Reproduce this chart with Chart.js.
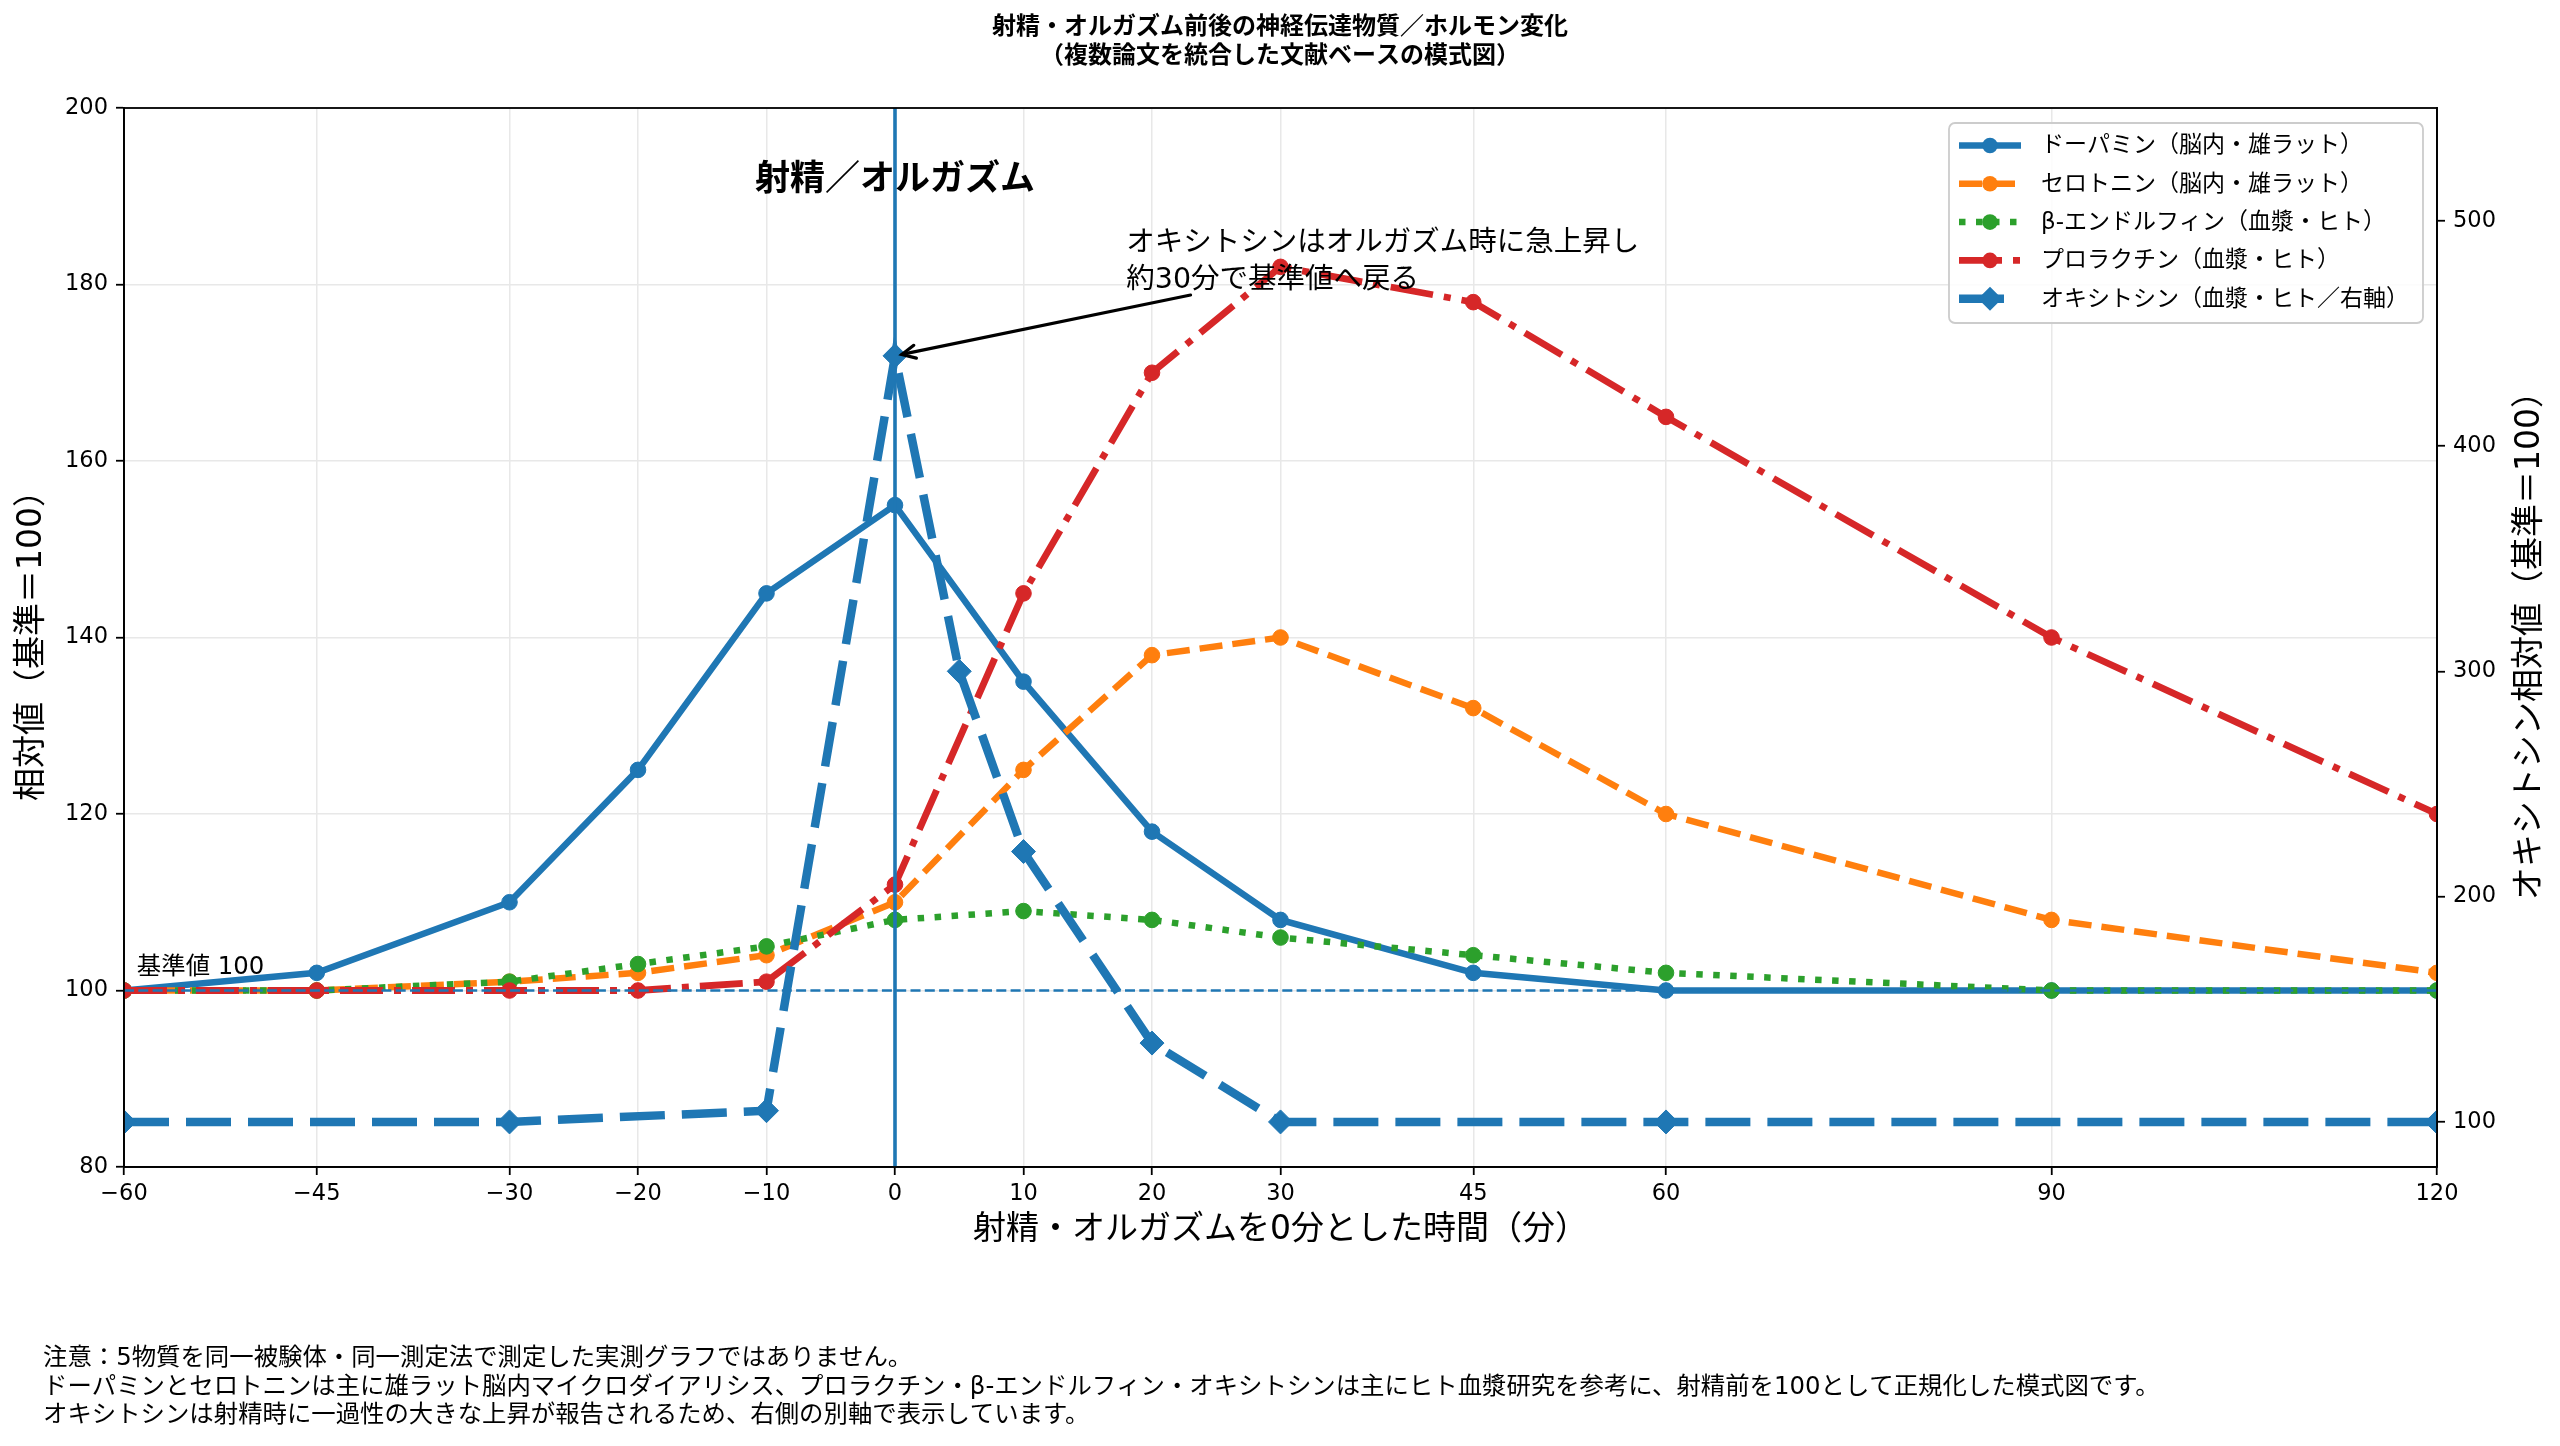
<!DOCTYPE html>
<html>
<head>
<meta charset="utf-8">
<script src="https://cdn.jsdelivr.net/npm/chart.js@4.4.0/dist/chart.umd.min.js"></script>
<style>
  html, body { margin: 0; padding: 0; background: #fff; }
  #wrap { width: 2560px; height: 1446px; position: relative; }
  canvas { display: block; }
</style>
</head>
<body>
<div id="wrap"><canvas id="c" width="2560" height="1446"></canvas></div>
<script>
// ---- data ----
const timeMin   = [-60, -45, -30, -20, -10, 0, 10, 20, 30, 45, 60, 90, 120];
const dopamine  = [100, 102, 110, 125, 145, 155, 135, 118, 108, 102, 100, 100, 100];
const serotonin = [100, 100, 101, 102, 104, 110, 125, 138, 140, 132, 120, 108, 102];
const endorphin = [100, 100, 101, 103, 105, 108, 109, 108, 106, 104, 102, 100, 100];
const prolactin = [100, 100, 100, 100, 101, 112, 145, 170, 182, 178, 165, 140, 120];
const oxyTime   = [-60, -30, -10, 0, 5, 10, 20, 30, 60, 120];
const oxytocin  = [100, 100, 105, 440, 300, 220, 135, 100, 100, 100];
const xTicks    = [-60, -45, -30, -20, -10, 0, 10, 20, 30, 45, 60, 90, 120];
const yLeftTicks  = [80, 100, 120, 140, 160, 180, 200];
const yRightTicks = [100, 200, 300, 400, 500];

const labels = [
  'ドーパミン（脳内・雄ラット）',
  'セロトニン（脳内・雄ラット）',
  'β-エンドルフィン（血漿・ヒト）',
  'プロラクチン（血漿・ヒト）',
  'オキシトシン（血漿・ヒト／右軸）'
];
const titleLines = ['射精・オルガズム前後の神経伝達物質／ホルモン変化', '（複数論文を統合した文献ベースの模式図）'];
const xTitle = '射精・オルガズムを0分とした時間（分）';
const yTitle = '相対値（基準＝100）';
const yRTitle = 'オキシトシン相対値（基準＝100）';
const eventLabel = '射精／オルガズム';
const baseLabel = '基準値 100';
const annoLines = ['オキシトシンはオルガズム時に急上昇し', '約30分で基準値へ戻る'];
const notes = [
  '注意：5物質を同一被験体・同一測定法で測定した実測グラフではありません。',
  'ドーパミンとセロトニンは主に雄ラット脳内マイクロダイアリシス、プロラクチン・β-エンドルフィン・オキシトシンは主にヒト血漿研究を参考に、射精前を100として正規化した模式図です。',
  'オキシトシンは射精時に一過性の大きな上昇が報告されるため、右側の別軸で表示しています。'
];

const FONT = '"DejaVu Sans", "Noto Sans CJK JP", sans-serif';
const BLUE = '#1f77b4', ORANGE = '#ff7f0e', GREEN = '#2ca02c', RED = '#d62728';
const GRID = '#e8e8e8';

const pts = (xs, ys) => xs.map((x, i) => ({ x: x, y: ys[i] }));
const fmt = v => (v < 0 ? '\u2212' + Math.abs(v) : String(v));

const dsCommon = { tension: 0, clip: 0, pointBorderWidth: 1, pointHoverRadius: 8 };
const datasets = [
  Object.assign({}, dsCommon, { label: labels[0], data: pts(timeMin, dopamine), yAxisID: 'y', order: 5,
    borderColor: BLUE, backgroundColor: BLUE, pointBackgroundColor: BLUE, pointBorderColor: BLUE,
    borderWidth: 6.5, borderDash: [], pointStyle: 'circle', pointRadius: 7.8 }),
  Object.assign({}, dsCommon, { label: labels[1], data: pts(timeMin, serotonin), yAxisID: 'y', order: 4,
    borderColor: ORANGE, backgroundColor: ORANGE, pointBackgroundColor: ORANGE, pointBorderColor: ORANGE,
    borderWidth: 6.5, borderDash: [23, 10], pointStyle: 'circle', pointRadius: 7.8 }),
  Object.assign({}, dsCommon, { label: labels[2], data: pts(timeMin, endorphin), yAxisID: 'y', order: 3,
    borderColor: GREEN, backgroundColor: GREEN, pointBackgroundColor: GREEN, pointBorderColor: GREEN,
    borderWidth: 6.5, borderDash: [6.5, 10.5], pointStyle: 'circle', pointRadius: 7.8 }),
  Object.assign({}, dsCommon, { label: labels[3], data: pts(timeMin, prolactin), yAxisID: 'y', order: 2,
    borderColor: RED, backgroundColor: RED, pointBackgroundColor: RED, pointBorderColor: RED,
    borderWidth: 6.8, borderDash: [43, 11, 7, 11], pointStyle: 'circle', pointRadius: 7.8 }),
  Object.assign({}, dsCommon, { label: labels[4], data: pts(oxyTime, oxytocin), yAxisID: 'yR', order: 1,
    borderColor: BLUE, backgroundColor: BLUE, pointBackgroundColor: BLUE, pointBorderColor: BLUE,
    borderWidth: 8.5, borderDash: [45, 17], pointStyle: 'rectRot', pointRadius: 12 })
];

// reference lines (axvline at 0, axhline at 100) drawn after prolactin, before oxytocin
const refLines = {
  id: 'refLines',
  afterDatasetDraw(chart, args) {
    if (args.index !== 3) return;
    const { ctx, chartArea: ca, scales } = chart;
    ctx.save();
    ctx.beginPath(); ctx.rect(ca.left, ca.top, ca.right - ca.left, ca.bottom - ca.top); ctx.clip();
    const y100 = scales.y.getPixelForValue(100);
    ctx.strokeStyle = BLUE; ctx.lineWidth = 2.6; ctx.setLineDash([10, 4.3]);
    ctx.beginPath(); ctx.moveTo(ca.left, y100); ctx.lineTo(ca.right, y100); ctx.stroke();
    const x0 = scales.x.getPixelForValue(0);
    ctx.setLineDash([]); ctx.lineWidth = 3.6;
    ctx.beginPath(); ctx.moveTo(x0, ca.top); ctx.lineTo(x0, ca.bottom); ctx.stroke();
    ctx.restore();
  }
};

const extras = {
  id: 'extras',
  afterDraw(chart) {
    const { ctx, chartArea: ca, scales } = chart;
    const sx = scales.x, sy = scales.y, sr = scales.yR;
    ctx.save();
    // frame
    ctx.strokeStyle = '#000'; ctx.lineWidth = 1.8; ctx.setLineDash([]);
    ctx.strokeRect(ca.left, ca.top, ca.right - ca.left, ca.bottom - ca.top);

    // event label
    ctx.fillStyle = '#000';
    ctx.font = 'bold 35px ' + FONT;
    ctx.textAlign = 'center'; ctx.textBaseline = 'middle';
    ctx.fillText(eventLabel, sx.getPixelForValue(0), sy.getPixelForValue(191.7));

    // baseline label
    ctx.font = '24.4px ' + FONT;
    ctx.textAlign = 'left'; ctx.textBaseline = 'alphabetic';
    ctx.fillText(baseLabel, sx.getPixelForValue(-59), sy.getPixelForValue(101.9));

    // annotation text
    ctx.font = '28.5px ' + FONT;
    ctx.textBaseline = 'middle';
    const ax = sx.getPixelForValue(18);
    ctx.fillText(annoLines[0], ax, sr.getPixelForValue(490));
    ctx.fillText(annoLines[1], ax, sr.getPixelForValue(473.5));

    // arrow
    const x1 = sx.getPixelForValue(23), y1 = sr.getPixelForValue(467);
    let x2 = sx.getPixelForValue(0), y2 = sr.getPixelForValue(440);
    const ang = Math.atan2(y2 - y1, x2 - x1);
    x2 -= Math.cos(ang) * 7; y2 -= Math.sin(ang) * 7;
    ctx.strokeStyle = '#000'; ctx.lineWidth = 3.2; ctx.lineCap = 'round';
    ctx.beginPath(); ctx.moveTo(x1, y1); ctx.lineTo(x2, y2); ctx.stroke();
    const hl = 15, ha = 0.45;
    ctx.beginPath();
    ctx.moveTo(x2 - hl * Math.cos(ang - ha), y2 - hl * Math.sin(ang - ha));
    ctx.lineTo(x2, y2);
    ctx.lineTo(x2 - hl * Math.cos(ang + ha), y2 - hl * Math.sin(ang + ha));
    ctx.stroke();
    ctx.lineCap = 'butt';

    // right axis title (reads bottom to top)
    ctx.save();
    ctx.translate(2530, (ca.top + ca.bottom) / 2);
    ctx.rotate(-Math.PI / 2);
    ctx.font = '33px ' + FONT; ctx.textAlign = 'center'; ctx.textBaseline = 'middle';
    ctx.fillStyle = '#000';
    ctx.fillText(yRTitle, 0, 0);
    ctx.restore();

    // legend
    ctx.font = '23px ' + FONT;
    let tw = 0;
    labels.forEach(l => { tw = Math.max(tw, ctx.measureText(l).width); });
    const boxRight = ca.right - 14, boxTop = ca.top + 15;
    const handleLen = 62, pad = 10, textPad = 20, rowH = 38.3, rightPad = 14;
    const boxW = pad + handleLen + textPad + tw + rightPad;
    const boxH = 200;
    const boxLeft = boxRight - boxW;
    ctx.fillStyle = 'rgba(255,255,255,0.85)';
    ctx.strokeStyle = '#cccccc'; ctx.lineWidth = 1.8;
    ctx.beginPath();
    if (ctx.roundRect) ctx.roundRect(boxLeft, boxTop, boxW, boxH, 6); else ctx.rect(boxLeft, boxTop, boxW, boxH);
    ctx.fill(); ctx.stroke();
    datasets.forEach((d, i) => {
      const cy = boxTop + 22.5 + i * rowH;
      const hx0 = boxLeft + pad, hx1 = hx0 + handleLen, hcx = (hx0 + hx1) / 2;
      ctx.strokeStyle = d.borderColor; ctx.lineWidth = d.borderWidth;
      ctx.setLineDash(d.borderDash);
      ctx.beginPath(); ctx.moveTo(hx0, cy); ctx.lineTo(hx1, cy); ctx.stroke();
      ctx.setLineDash([]);
      ctx.fillStyle = d.borderColor;
      ctx.beginPath();
      if (d.pointStyle === 'rectRot') {
        const r = d.pointRadius;
        ctx.moveTo(hcx, cy - r); ctx.lineTo(hcx + r, cy); ctx.lineTo(hcx, cy + r); ctx.lineTo(hcx - r, cy); ctx.closePath();
      } else {
        ctx.arc(hcx, cy, d.pointRadius, 0, Math.PI * 2);
      }
      ctx.fill();
      ctx.fillStyle = '#000';
      ctx.textAlign = 'left'; ctx.textBaseline = 'middle';
      ctx.fillText(labels[i], hx1 + textPad, cy + 1);
    });

    // notes
    ctx.font = '24.4px ' + FONT;
    ctx.fillStyle = '#000'; ctx.textAlign = 'left'; ctx.textBaseline = 'middle';
    notes.forEach((n, i) => ctx.fillText(n, 43, 1359 + i * 28.5));
    ctx.restore();
  }
};

const tickFont = { size: 22.5, family: FONT };
const gridCommon = { color: GRID, lineWidth: 1.5, tickColor: '#000', tickLength: 8, tickWidth: 1.8 };
const borderCommon = { color: '#000', width: 1.8 };

new Chart(document.getElementById('c'), {
  type: 'line',
  data: { datasets: datasets },
  options: {
    responsive: false,
    devicePixelRatio: 1,
    animation: false,
    events: [],
    layout: { padding: { left: 0, right: 0, top: 0, bottom: 196 } },
    plugins: {
      legend: { display: false },
      tooltip: { enabled: false },
      title: {
        display: true, text: titleLines, color: '#000',
        font: { size: 24, weight: 'bold', family: FONT, lineHeight: 1.2 },
        padding: { top: 13.6, bottom: 36.8 }
      }
    },
    scales: {
      x: {
        type: 'linear', position: 'bottom', min: -60, max: 120,
        afterBuildTicks: s => { s.ticks = xTicks.map(v => ({ value: v })); },
        afterFit: s => { s.height = 83; },
        ticks: { font: tickFont, color: '#000', padding: 6, autoSkip: false, maxRotation: 0, callback: v => fmt(v) },
        grid: gridCommon, border: borderCommon,
        title: { display: true, text: xTitle, color: '#000', font: { size: 33, family: FONT, lineHeight: 1.2 }, padding: { top: 0, bottom: 0 } }
      },
      y: {
        type: 'linear', position: 'left', min: 80, max: 200,
        afterBuildTicks: s => { s.ticks = yLeftTicks.map(v => ({ value: v })); },
        afterFit: s => { s.width = 124; },
        ticks: { font: tickFont, color: '#000', padding: 8 },
        grid: gridCommon, border: borderCommon,
        title: { display: true, text: yTitle, color: '#000', font: { size: 33, family: FONT, lineHeight: 1.2 }, padding: { top: 13, bottom: 0 } }
      },
      yR: {
        type: 'linear', position: 'right', min: 80, max: 550,
        afterBuildTicks: s => { s.ticks = yRightTicks.map(v => ({ value: v })); },
        afterFit: s => { s.width = 123; },
        ticks: { font: tickFont, color: '#000', padding: 8 },
        grid: Object.assign({}, gridCommon, { drawOnChartArea: false }), border: borderCommon
      }
    }
  },
  plugins: [refLines, extras]
});
</script>
</body>
</html>
